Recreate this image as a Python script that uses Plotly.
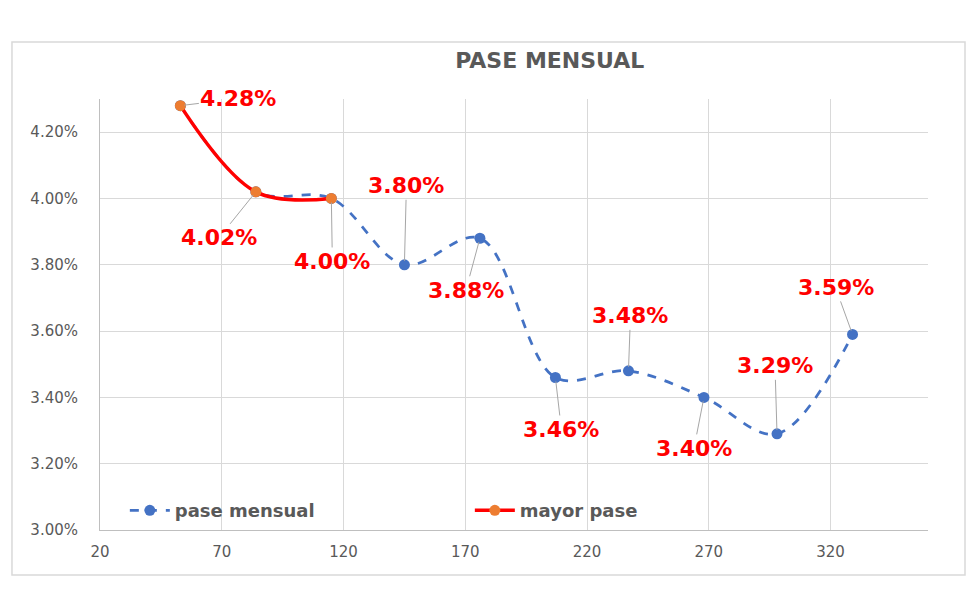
import plotly.graph_objects as go

x_vals = [53, 84, 115, 145, 176, 207, 237, 268, 298, 329]
pase_mensual = [4.28, 4.02, 4.00, 3.80, 3.88, 3.46, 3.48, 3.40, 3.29, 3.59]
mayor_x = [53, 84, 115]
mayor_pase = [4.28, 4.02, 4.00]
labels = ["4.28%", "4.02%", "4.00%", "3.80%", "3.88%", "3.46%", "3.48%", "3.40%", "3.29%", "3.59%"]
label_ax = [58, -37, 1, 2, -14, 6, 2, -10, -2, -17]
label_ay = [-7, 46, 63, -79, 52, 52, -55, 51, -68, -47]

GRAY = "#595959"
fig = go.Figure()
fig.add_trace(go.Scatter(
    x=x_vals, y=[v / 100 for v in pase_mensual], name="pase mensual",
    mode="lines+markers", line=dict(color="#4472C4", width=2.75, dash="dash", shape="spline", smoothing=1.0),
    marker=dict(color="#4472C4", size=11)))
fig.add_trace(go.Scatter(
    x=mayor_x, y=[v / 100 for v in mayor_pase], name="mayor pase",
    mode="lines+markers", line=dict(color="#FF0000", width=3.5, shape="spline", smoothing=1.0),
    marker=dict(color="#ED7D31", size=11)))

for xv, yv, t, ax, ay in zip(x_vals, pase_mensual, labels, label_ax, label_ay):
    fig.add_annotation(x=xv, y=yv / 100, text="<b>%s</b>" % t, showarrow=True, arrowhead=0,
                       arrowwidth=1, arrowcolor="#A6A6A6", ax=ax, ay=ay, standoff=4,
                       font=dict(family="DejaVu Sans", size=22, color="#FF0000"))

# chart border
fig.add_shape(type="rect", xref="paper", yref="paper", x0=-0.1063, x1=1.0447, y0=-0.1044, y1=1.1323,
              line=dict(color="#D9D9D9", width=1.5), layer="below")

fig.update_layout(
    width=980, height=590,
    margin=dict(l=100, r=52, t=99, b=60),
    paper_bgcolor="white", plot_bgcolor="white",
    title=dict(text="<b>PASE MENSUAL</b>", x=0.561, y=0.898, xanchor="center", yanchor="middle",
               font=dict(family="DejaVu Sans", size=22, color=GRAY)),
    xaxis=dict(range=[20, 360], tick0=20, dtick=50, showgrid=True, gridcolor="#D9D9D9", gridwidth=1,
               showline=True, linecolor="#BFBFBF", linewidth=1, zeroline=False, ticks="",
               ticklabelstandoff=8,
               tickfont=dict(family="DejaVu Sans", size=15, color=GRAY)),
    yaxis=dict(range=[0.030, 0.043], tick0=0.030, dtick=0.002, tickformat=".2%", showgrid=True,
               gridcolor="#D9D9D9", gridwidth=1, showline=True, linecolor="#BFBFBF", linewidth=1,
               zeroline=False, ticks="", ticklabelstandoff=18,
               tickfont=dict(family="DejaVu Sans", size=15, color=GRAY)),
    legend=dict(orientation="h", x=0.03, y=0.045, xanchor="left", yanchor="middle",
                bgcolor="rgba(0,0,0,0)", itemwidth=40, tracegroupgap=0,
                font=dict(family="DejaVu Sans", size=18, color=GRAY, weight="bold"),
                entrywidth=290),
    showlegend=True,
)

fig.write_html("out.html")
